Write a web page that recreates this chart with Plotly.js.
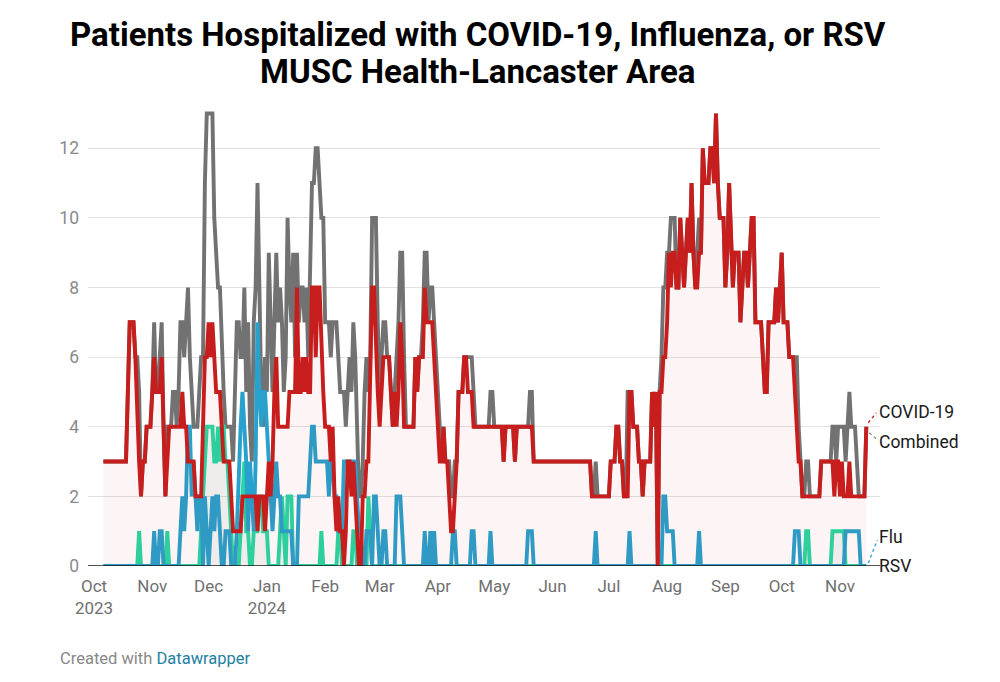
<!DOCTYPE html>
<html><head><meta charset="utf-8">
<script src="https://cdn.plot.ly/plotly-3.0.1.min.js"></script>
<style>html,body{margin:0;padding:0;background:#fff;}#chart{width:1000px;height:682px;}</style>
</head><body><div id="chart"></div>
<script>
// first day of the daily series
const startDate = '2023-10-06';

const seriesNames = ['Combined', 'COVID-19', 'Flu', 'RSV'];
const titleLines = ['Patients Hospitalized with COVID-19, Influenza, or RSV', 'MUSC Health-Lancaster Area'];

const covid = [
3,3,3,3,3,3,3,3,3,3,
3,3,3,5,7,7,7,6,4,3,
2,3,3,4,4,4,5,6,5,5,
5,6,4,2,3,4,4,4,4,4,
4,4,5,4,4,3,3,3,3,2,
2,2,2,4,6,6,7,6,7,6,
5,5,5,4,3,3,3,3,2,1,
1,1,1,1,2,2,2,2,2,2,
2,2,1,2,2,2,1,2,3,2,
3,5,6,4,4,4,4,4,4,5,
5,5,5,8,5,5,6,5,6,5,
5,8,8,6,8,8,6,5,4,4,
4,3,4,2,1,2,1,1,0,1,
3,3,2,3,2,1,0,0,2,2,
3,3,5,8,8,6,5,4,5,6,
6,6,6,5,4,5,4,5,7,6,
4,4,4,4,4,4,6,5,6,6,
6,8,7,7,7,7,6,5,4,3,
3,4,3,3,2,1,1,2,3,5,
5,5,6,6,5,5,5,4,4,4,
4,4,4,4,4,4,4,4,4,4,
4,4,4,3,4,4,4,4,4,3,
4,4,4,4,4,4,4,4,4,3,
3,3,3,3,3,3,3,3,3,3,
3,3,3,3,3,3,3,3,3,3,
3,3,3,3,3,3,3,3,3,3,
2,2,2,2,2,2,2,2,2,2,
3,3,3,4,4,3,3,2,2,2,
5,5,4,4,4,3,3,2,3,3,
3,3,5,4,5,0,5,5,6,6,
7,9,8,9,9,8,8,10,9,8,
9,10,9,11,9,8,8,9,9,12,
11,11,11,12,12,11,13,11,10,10,
10,8,9,11,9,8,9,9,9,7,
8,9,9,8,9,10,10,7,7,7,
7,6,5,5,7,7,7,7,8,7,
8,9,7,7,7,6,6,6,5,4,
3,3,2,2,2,2,2,2,2,2,
2,2,3,3,3,3,3,3,3,2,
3,3,2,3,2,2,2,3,2,2,
2,2,2,2,2,2,4
];

const combined = [
3,3,3,3,3,3,3,3,3,3,
3,3,3,5,7,7,7,6,6,5,
2,3,3,4,4,4,5,7,5,5,
6,7,4,2,4,4,4,5,5,4,
5,7,7,6,7,8,6,5,4,4,
4,5,6,6,11,13,13,13,13,10,
9,8,8,6,5,4,4,4,4,3,
5,7,7,6,6,8,5,7,4,3,
7,8,11,8,5,4,6,5,9,7,
5,7,9,7,8,7,5,6,10,8,
7,9,6,9,7,8,8,7,8,6,
8,11,11,12,12,11,10,10,7,7,
7,6,7,7,7,6,5,5,5,4,
5,6,5,7,6,4,2,2,3,5,
6,5,6,10,10,10,7,5,6,7,
7,6,6,5,4,5,6,7,9,9,
6,4,4,4,4,4,6,5,6,6,
7,9,9,7,8,8,7,6,5,4,
3,4,3,3,3,2,2,3,3,5,
5,5,6,6,6,6,6,5,4,4,
4,4,4,4,4,4,5,5,4,4,
4,4,4,3,4,4,4,4,4,3,
4,4,4,4,4,4,4,5,5,3,
3,3,3,3,3,3,3,3,3,3,
3,3,3,3,3,3,3,3,3,3,
3,3,3,3,3,3,3,3,3,3,
2,2,3,2,2,2,2,2,2,2,
3,3,3,4,4,3,3,2,2,5,
5,5,4,4,4,3,3,2,3,3,
3,3,5,4,5,0,5,6,8,8,
9,9,10,10,10,8,8,10,9,8,
9,10,9,11,9,8,9,10,9,12,
11,11,11,12,12,11,13,11,10,10,
10,8,9,11,9,8,9,9,9,7,
8,9,9,8,9,10,10,7,7,7,
7,6,5,5,7,7,7,7,8,7,
8,9,7,7,7,6,6,6,6,6,
4,3,2,2,3,3,2,2,2,2,
2,2,3,3,3,3,3,3,4,4,
3,4,4,4,4,3,4,5,4,4,
4,3,2,2,2,2,4
];

const flu = [
0,0,0,0,0,0,0,0,0,0,
0,0,0,0,0,0,0,0,0,0,
0,0,0,0,0,0,0,1,0,0,
1,1,0,0,0,0,0,0,0,0,
0,1,2,1,2,4,4,2,3,2,
1,2,2,0,2,1,0,1,2,1,
2,2,1,0,0,1,1,1,0,0,
0,1,3,4,5,4,3,1,3,2,
1,3,7,5,4,5,5,4,3,2,
1,2,3,2,2,1,1,1,1,1,
1,0,0,0,2,2,2,2,2,2,
3,4,4,3,3,3,3,3,3,3,
2,3,3,2,2,1,1,1,3,3,
3,3,3,3,3,2,1,1,0,0,
1,1,1,0,2,2,1,0,0,1,
1,0,0,0,0,0,2,2,2,1,
0,0,0,0,0,0,0,0,0,0,
0,1,0,0,1,0,1,0,0,0,
0,0,0,0,0,0,1,1,0,0,
0,0,0,0,0,0,1,1,0,0,
0,0,0,0,0,0,1,0,0,0,
0,0,0,0,0,0,0,0,0,0,
0,0,0,0,0,0,1,1,1,0,
0,0,0,0,0,0,0,0,0,0,
0,0,0,0,0,0,0,0,0,0,
0,0,0,0,0,0,0,0,0,0,
0,0,1,0,0,0,0,0,0,0,
0,0,0,0,0,0,0,0,0,0,
1,0,0,0,0,0,0,0,0,0,
0,0,0,0,0,0,0,0,2,2,
1,1,1,1,0,0,0,0,0,0,
0,0,0,0,0,0,0,1,0,0,
0,0,0,0,0,0,0,0,0,0,
0,0,0,0,0,0,0,0,0,0,
0,0,0,0,0,0,0,0,0,0,
0,0,0,0,0,0,0,0,0,0,
0,0,0,0,0,0,0,0,1,1,
1,0,0,0,0,0,0,0,0,0,
0,0,0,0,0,0,0,0,0,0,
0,0,0,0,0,1,1,1,1,1,
1,1,1,0,0,0,0
];

const rsv = [
0,0,0,0,0,0,0,0,0,0,
0,0,0,0,0,0,0,0,0,1,
0,0,0,0,0,0,0,0,0,0,
0,0,0,0,1,0,0,0,0,0,
0,0,0,0,0,0,0,0,0,0,
0,0,1,2,3,4,4,4,4,3,
3,4,3,4,4,3,3,2,1,0,
0,0,0,1,2,3,1,1,0,0,
1,1,1,2,2,1,1,1,0,0,
0,0,0,0,1,2,1,0,2,2,
2,0,0,0,0,0,0,0,0,0,
0,0,0,0,0,0,1,0,0,0,
0,0,0,0,0,1,1,0,0,0,
0,0,0,1,1,0,0,0,0,0,
0,2,1,0,0,0,0,0,0,0,
0,0,0,0,0,0,0,0,0,0,
0,0,0,0,0,0,0,0,0,0,
0,0,0,0,0,0,0,0,0,0,
0,0,0,0,0,0,0,0,0,0,
0,0,0,0,0,0,0,0,0,0,
0,0,0,0,0,0,0,0,0,0,
0,0,0,0,0,0,0,0,0,0,
0,0,0,0,0,0,0,0,0,0,
0,0,0,0,0,0,0,0,0,0,
0,0,0,0,0,0,0,0,0,0,
0,0,0,0,0,0,0,0,0,0,
0,0,0,0,0,0,0,0,0,0,
0,0,0,0,0,0,0,0,0,0,
0,0,0,0,0,0,0,0,0,0,
0,0,0,0,0,0,0,0,0,0,
0,0,0,0,0,0,0,0,0,0,
0,0,0,0,0,0,0,0,0,0,
0,0,0,0,0,0,0,0,0,0,
0,0,0,0,0,0,0,0,0,0,
0,0,0,0,0,0,0,0,0,0,
0,0,0,0,0,0,0,0,0,0,
0,0,0,0,0,0,0,0,0,0,
0,0,0,0,1,1,0,0,0,0,
0,0,0,0,0,0,0,0,1,1,
1,1,1,1,1,0,0,0,0,0,
0,0,0,0,0,0,0
];

const tickDates = ['2023-10-01','2023-11-01','2023-12-01','2024-01-01','2024-02-01','2024-03-01',
  '2024-04-01','2024-05-01','2024-06-01','2024-07-01','2024-08-01','2024-09-01','2024-10-01','2024-11-01'];
const tickLabels = ['Oct<br>2023','Nov','Dec','Jan<br>2024','Feb','Mar','Apr','May','Jun','Jul','Aug','Sep','Oct','Nov'];
const yTicks = [0, 2, 4, 6, 8, 10, 12];

function dayList(start, n) {
  const out = [];
  const t0 = Date.parse(start + 'T00:00:00Z');
  for (let i = 0; i < n; i++) out.push(new Date(t0 + i * 86400000).toISOString().slice(0, 10));
  return out;
}
const dates = dayList(startDate, covid.length);
const lastDate = dates[dates.length - 1];
const last = a => a[a.length - 1];

const colors = {combined: '#727272', covid: '#c71e1d', flu: '#28a1cd', rsv: '#26d8a4'};
const LW = 3.9;

const traces = [
  {x: dates, y: combined, name: seriesNames[0], type: 'scatter', mode: 'lines',
   line: {color: colors.combined, width: LW}},
  {x: dates, y: rsv, name: seriesNames[3], type: 'scatter', mode: 'lines',
   fill: 'tozeroy', fillcolor: 'rgba(40,100,100,0.06)',
   line: {color: colors.rsv, width: LW}},
  {x: dates, y: flu, name: seriesNames[2], type: 'scatter', mode: 'lines',
   line: {color: colors.flu, width: LW}},
  {x: dates, y: covid, name: seriesNames[1], type: 'scatter', mode: 'lines',
   fill: 'tozeroy', fillcolor: 'rgba(199,30,29,0.045)',
   line: {color: colors.covid, width: LW}}
];

function connector(yv, x0, x1, y0, y1, color) {
  return {type: 'line', xref: 'x', yref: 'y', xsizemode: 'pixel', ysizemode: 'pixel',
    xanchor: lastDate, yanchor: yv, x0: x0, x1: x1, y0: y0, y1: y1,
    line: {color: color, width: 1.3, dash: 'dot'}};
}
function label(text, yv, yshift) {
  return {text: text, xref: 'x', yref: 'y', x: lastDate, y: yv, xanchor: 'left', yanchor: 'middle',
    xshift: 11, yshift: yshift, showarrow: false, font: {size: 17.5, color: '#1a1a1a', family: 'Roboto, sans-serif'}};
}
function titleLine(text, yPaper) {
  return {text: '<b>' + text + '</b>', xref: 'paper', yref: 'paper', x: 0.4924, y: yPaper,
    xanchor: 'center', yanchor: 'middle', showarrow: false,
    font: {family: 'Roboto, sans-serif', size: 33, color: '#000000'}};
}

const layout = {
  width: 1000, height: 682,
  margin: {l: 88, r: 120, t: 103, b: 116},
  paper_bgcolor: '#ffffff', plot_bgcolor: '#ffffff',
  font: {family: 'Roboto, sans-serif', color: '#707070', size: 17},
  showlegend: false,
  xaxis: {
    type: 'date', range: ['2023-09-27 19:00', '2024-11-22 07:00'],
    tickmode: 'array', tickvals: tickDates, ticktext: tickLabels,
    showgrid: false, zeroline: false, showline: false, ticks: '',
    tickfont: {size: 17, color: '#707070'}, ticklabelstandoff: 8, fixedrange: true
  },
  yaxis: {
    range: [0, 13.3], tickmode: 'array', tickvals: yTicks,
    showgrid: true, gridcolor: '#e2e2e2', gridwidth: 1, zeroline: false, showline: false, ticks: '',
    tickfont: {size: 17.5, color: '#8a8a8a'}, ticklabelstandoff: 8, fixedrange: true
  },
  shapes: [
    {type: 'line', xref: 'paper', yref: 'y', x0: 0, x1: 1, y0: 0, y1: 0, layer: 'above',
     line: {color: '#1a1a1a', width: 1.3}},
    connector(last(covid), 2, 10, 4, 14, colors.covid),
    connector(last(combined), 3, 10, -6, -12, '#888888'),
    connector(last(flu), 2, 11, 3, 26, colors.flu)
  ],
  annotations: [
    titleLine(titleLines[0], 1.1469),
    titleLine(titleLines[1], 1.067),
    label(seriesNames[1], last(covid), 15),
    label(seriesNames[0], last(combined), -15),
    label(seriesNames[2], last(flu), 29),
    label(seriesNames[3], last(rsv), 0),
    {text: 'Created with <span style="color:#1d81a2">Datawrapper</span>', xref: 'paper', yref: 'paper',
     x: -0.038, y: -0.2, xanchor: 'left', yanchor: 'middle', showarrow: false,
     font: {size: 16.5, color: '#888888', family: 'Roboto, sans-serif'}}
  ]
};

Plotly.newPlot('chart', traces, layout, {displayModeBar: false, staticPlot: true});
</script>
</body></html>
